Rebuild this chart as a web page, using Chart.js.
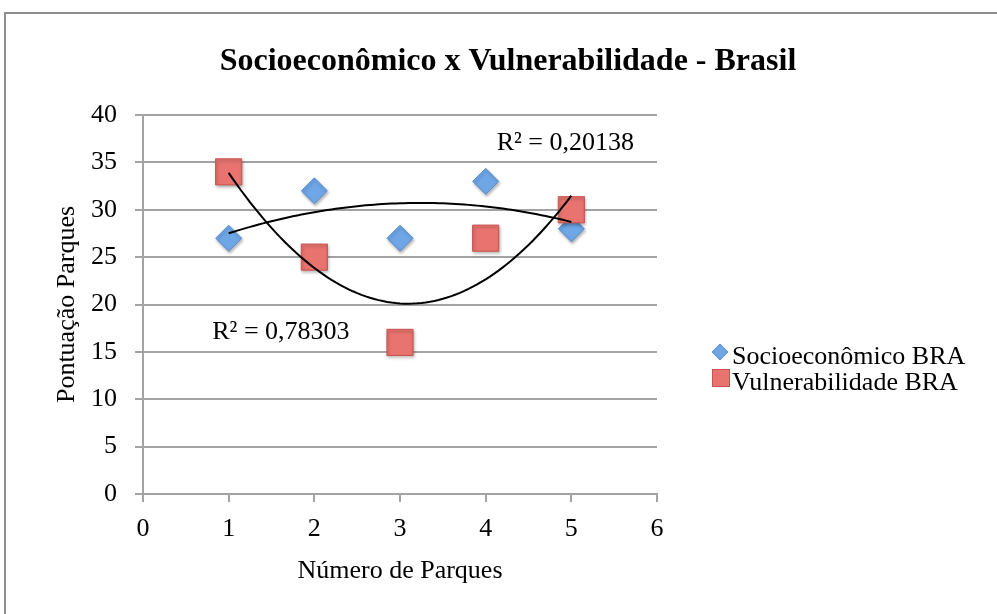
<!DOCTYPE html>
<html>
<head>
<meta charset="utf-8">
<script src="https://cdn.jsdelivr.net/npm/chart.js@4.4.1/dist/chart.umd.min.js"></script>
<style>
    body { margin: 0; background: #fff; }
    #wrap { width: 997px; height: 614px; }
</style>
</head>
<body>
<div id="wrap"><canvas id="grafico"></canvas></div>
<script>
// dados
const parques = [1, 2, 3, 4, 5];
const socioBRA = [27, 32, 27, 33, 28];
const vulnBRA = [34, 25, 16, 27, 30];
const nomesSeries = ['Socioeconômico BRA', 'Vulnerabilidade BRA'];
const titulo = 'Socioeconômico x Vulnerabilidade - Brasil';

const serif = '"Liberation Serif", "Times New Roman", serif';
const cinza = '#a3a3a3';

// tendência polinomial de ordem 2 (mínimos quadrados), como no Excel
function ajustePoli2(xs, ys) {
    let s = [0, 0, 0, 0, 0], t = [0, 0, 0];
    for (let i = 0; i < xs.length; i++) {
        let p = 1;
        for (let k = 0; k < 5; k++) { s[k] += p; if (k < 3) t[k] += p * ys[i]; p *= xs[i]; }
    }
    const M = [[s[0], s[1], s[2], t[0]], [s[1], s[2], s[3], t[1]], [s[2], s[3], s[4], t[2]]];
    for (let c = 0; c < 3; c++) {
        for (let r = c + 1; r < 3; r++) {
            const f = M[r][c] / M[c][c];
            for (let k = c; k < 4; k++) M[r][k] -= f * M[c][k];
        }
    }
    const coef = [0, 0, 0];
    for (let r = 2; r >= 0; r--) {
        let v = M[r][3];
        for (let k = r + 1; k < 3; k++) v -= M[r][k] * coef[k];
        coef[r] = v / M[r][r];
    }
    const f = (x) => coef[0] + coef[1] * x + coef[2] * x * x;
    const media = ys.reduce((a, b) => a + b, 0) / ys.length;
    let ssTot = 0, ssRes = 0;
    ys.forEach((y, i) => { ssTot += (y - media) ** 2; ssRes += (y - f(xs[i])) ** 2; });
    const curva = [];
    for (let i = 0; i <= 80; i++) {
        const x = xs[0] + (xs[xs.length - 1] - xs[0]) * i / 80;
        curva.push({ x: x, y: f(x) });
    }
    return { curva: curva, r2: 1 - ssRes / ssTot };
}

const tendSocio = ajustePoli2(parques, socioBRA);
const tendVuln = ajustePoli2(parques, vulnBRA);
const fmtR2 = (v) => 'R² = ' + v.toFixed(5).replace('.', ',');

const pontos = (ys) => parques.map((x, i) => ({ x: x, y: ys[i] }));

const coresSocio = { fill: '#6ea6e6', line: '#5a8fd4' };
const coresVuln = { fill: '#e8736f', line: '#c9544f' };

const moldura = {
    id: 'moldura',
    beforeDraw(chart) {
        const ctx = chart.ctx;
        ctx.save();
        ctx.fillStyle = '#fff';
        ctx.fillRect(0, 0, chart.width, chart.height);
        ctx.strokeStyle = '#8f8f8f';
        ctx.lineWidth = 2;
        ctx.strokeRect(5, 13, chart.width + 20, chart.height + 20);
        ctx.restore();
    },
    beforeDatasetDraw(chart, args) {
        if (args.index < 2) {
            chart.ctx.save();
            chart.ctx.shadowColor = 'rgba(0,0,0,0.3)';
            chart.ctx.shadowBlur = 3;
            chart.ctx.shadowOffsetX = 1;
            chart.ctx.shadowOffsetY = 2;
        }
    },
    afterDatasetDraw(chart, args) {
        if (args.index < 2) chart.ctx.restore();
    },
    afterDraw(chart) {
        const ctx = chart.ctx;
        const sx = chart.scales.x, sy = chart.scales.y;
        ctx.save();
        // título
        ctx.fillStyle = '#000';
        ctx.font = 'bold 32px ' + serif;
        ctx.textAlign = 'center';
        ctx.textBaseline = 'middle';
        const w = ctx.measureText(titulo).width;
        ctx.translate(508, 62);
        ctx.scale(Math.min(1, 577 / w), 1);
        ctx.fillText(titulo, 0, 0);
        ctx.restore();

        // rótulos R²
        ctx.save();
        ctx.fillStyle = '#000';
        ctx.font = '26px ' + serif;
        ctx.textAlign = 'center';
        ctx.textBaseline = 'middle';
        ctx.fillText(fmtR2(tendSocio.r2), sx.getPixelForValue(4.93), sy.getPixelForValue(37.0));
        ctx.fillText(fmtR2(tendVuln.r2), sx.getPixelForValue(1.61), sy.getPixelForValue(17.1));

        // legenda
        ctx.textAlign = 'left';
        ctx.fillText(nomesSeries[0], 732, 357);
        ctx.fillText(nomesSeries[1], 732, 383);
        ctx.lineWidth = 1;
        ctx.fillStyle = coresSocio.fill;
        ctx.strokeStyle = coresSocio.line;
        ctx.beginPath();
        ctx.moveTo(720, 344); ctx.lineTo(728, 352); ctx.lineTo(720, 360); ctx.lineTo(712, 352);
        ctx.closePath(); ctx.fill(); ctx.stroke();
        ctx.fillStyle = coresVuln.fill;
        ctx.strokeStyle = coresVuln.line;
        ctx.fillRect(712.5, 369.5, 17, 17);
        ctx.strokeRect(712.5, 369.5, 17, 17);
        ctx.restore();
    }
};

new Chart(document.getElementById('grafico'), {
    type: 'scatter',
    data: {
        datasets: [
            {
                label: nomesSeries[0],
                data: pontos(socioBRA),
                pointStyle: 'rectRot',
                pointRadius: 13,
                pointHoverRadius: 13,
                backgroundColor: coresSocio.fill,
                borderColor: coresSocio.line,
                borderWidth: 1,
                order: 2
            },
            {
                label: nomesSeries[1],
                data: pontos(vulnBRA),
                pointStyle: 'rect',
                pointRadius: 18.5,
                pointHoverRadius: 18.5,
                backgroundColor: coresVuln.fill,
                borderColor: coresVuln.line,
                borderWidth: 1,
                order: 1
            },
            {
                type: 'line',
                label: 'tendência socio',
                data: tendSocio.curva,
                borderColor: '#000',
                borderWidth: 2,
                pointRadius: 0,
                fill: false,
                order: 0
            },
            {
                type: 'line',
                label: 'tendência vuln',
                data: tendVuln.curva,
                borderColor: '#000',
                borderWidth: 2,
                pointRadius: 0,
                fill: false,
                order: 0
            }
        ]
    },
    options: {
        responsive: true,
        maintainAspectRatio: false,
        animation: false,
        events: [],
        layout: { padding: { top: 115, right: 340, left: 0, bottom: 0 } },
        plugins: {
            legend: { display: false },
            title: { display: false },
            tooltip: { enabled: false }
        },
        scales: {
            x: {
                type: 'linear',
                min: 0,
                max: 6,
                ticks: { stepSize: 1, color: '#000', padding: 12, font: { family: serif, size: 26 } },
                grid: { drawOnChartArea: false, tickLength: 8, color: cinza, lineWidth: 2 },
                border: { color: cinza, width: 2 },
                title: {
                    display: true,
                    text: 'Número de Parques',
                    color: '#000',
                    font: { family: serif, size: 26 },
                    padding: { top: 0, bottom: 27 }
                },
                afterFit: (scale) => { scale.height = 120; }
            },
            y: {
                min: 0,
                max: 40,
                ticks: { stepSize: 5, color: '#000', padding: 18, font: { family: serif, size: 26 } },
                grid: { tickLength: 8, color: cinza, lineWidth: 2 },
                border: { color: cinza, width: 2 },
                title: {
                    display: true,
                    text: 'Pontuação Parques',
                    color: '#000',
                    font: { family: serif, size: 26 },
                    padding: { top: 52, bottom: 0 }
                },
                afterFit: (scale) => { scale.width = 143; }
            }
        }
    },
    plugins: [moldura]
});
</script>
</body>
</html>
